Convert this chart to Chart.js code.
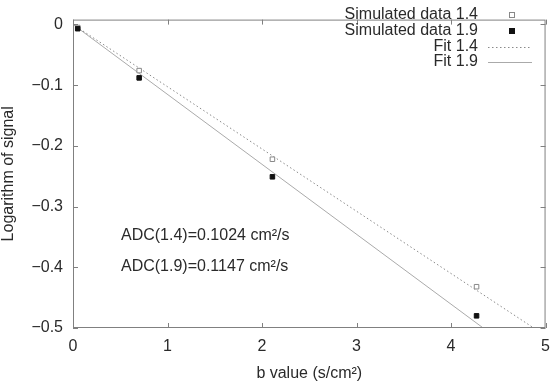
<!DOCTYPE html>
<html>
<head>
<meta charset="utf-8">
<script src="https://cdn.jsdelivr.net/npm/chart.js@4"></script>
<style>
  body { margin: 0; background: #fff; }
  canvas { display: block; }
</style>
</head>
<body>
<canvas id="adcChart" width="559" height="381"></canvas>
<script>
// values
const bValues14 = [0.05, 0.70, 2.11, 4.27];
const signal14 = [-0.005, -0.076, -0.222, -0.432];
const bValues19 = [0.05, 0.70, 2.11, 4.27];
const signal19 = [-0.007, -0.088, -0.251, -0.480];
const fitB = [0, 5];
const fit14 = [0, -0.5128];
const fit19 = [0, -0.576];
const xTicks = [0, 1, 2, 3, 4, 5];
const yTicks = [0, -0.1, -0.2, -0.3, -0.4, -0.5];
const seriesLabels = ['Simulated data 1.4', 'Simulated data 1.9', 'Fit 1.4', 'Fit 1.9'];
const adcNotes = ['ADC(1.4)=0.1024 cm²/s', 'ADC(1.9)=0.1147 cm²/s'];

const FONT = '"Liberation Sans", Arial, Helvetica, sans-serif';
const TEXT = '#2a2a2a';
const FRAME = '#808080';

function toPoints(xs, ys) {
    return xs.map((x, i) => ({ x: x, y: ys[i] }));
}

function fmtTick(v) {
    return v < 0 ? '\u2212' + Math.abs(v) : String(v);
}

// frame, inward ticks, legend and the ADC notes
const overlay = {
    id: 'overlay',
    afterDraw(chart) {
        const ctx = chart.ctx;
        const a = chart.chartArea;
        const xs = chart.scales.x;
        const ys = chart.scales.y;
        ctx.save();
        ctx.strokeStyle = FRAME;
        ctx.lineWidth = 1;
        ctx.setLineDash([]);
        ctx.strokeRect(a.left + 0.5, a.top + 0.5, a.right - a.left - 1, a.bottom - a.top - 1);

        const tl = 5;
        ctx.beginPath();
        xTicks.forEach(v => {
            const px = Math.round(xs.getPixelForValue(v)) + 0.5;
            ctx.moveTo(px, a.bottom); ctx.lineTo(px, a.bottom - tl);
            ctx.moveTo(px, a.top); ctx.lineTo(px, a.top + tl);
        });
        yTicks.forEach(v => {
            const py = Math.round(ys.getPixelForValue(v)) + 0.5;
            ctx.moveTo(a.left, py); ctx.lineTo(a.left + tl, py);
            ctx.moveTo(a.right, py); ctx.lineTo(a.right - tl, py);
        });
        ctx.stroke();

        // legend
        ctx.font = '16px ' + FONT;
        ctx.textAlign = 'right';
        ctx.textBaseline = 'middle';
        const rowY = [15, 31, 46.5, 62];
        seriesLabels.forEach((label, i) => {
            const y = rowY[i];
            ctx.fillStyle = TEXT;
            ctx.fillText(label, 478, y);
            const ds = chart.data.datasets[i];
            if (i < 2) {
                ctx.fillStyle = ds.pointBackgroundColor;
                ctx.strokeStyle = ds.pointBorderColor;
                ctx.lineWidth = 1;
                ctx.fillRect(509.5, y - 2.5, 5, 5);
                ctx.strokeRect(509.5, y - 2.5, 5, 5);
            } else {
                ctx.strokeStyle = ds.borderColor;
                ctx.lineWidth = ds.borderWidth;
                ctx.setLineDash(ds.borderDash || []);
                ctx.beginPath();
                ctx.moveTo(488, Math.round(y) + 0.5);
                ctx.lineTo(532, Math.round(y) + 0.5);
                ctx.stroke();
                ctx.setLineDash([]);
            }
        });

        // ADC notes
        ctx.fillStyle = TEXT;
        ctx.textAlign = 'left';
        ctx.fillText(adcNotes[0], 121, 236);
        ctx.fillText(adcNotes[1], 121, 267);
        ctx.restore();
    }
};

new Chart(document.getElementById('adcChart'), {
    type: 'scatter',
    data: {
        datasets: [
            {
                label: seriesLabels[0],
                data: toPoints(bValues14, signal14),
                showLine: false,
                pointStyle: 'rect',
                pointRadius: 3.2,
                pointBackgroundColor: '#fff',
                pointBorderColor: '#888',
                pointBorderWidth: 1,
                order: 1
            },
            {
                label: seriesLabels[1],
                data: toPoints(bValues19, signal19),
                showLine: false,
                pointStyle: 'rect',
                pointRadius: 3.2,
                pointBackgroundColor: '#111',
                pointBorderColor: '#111',
                pointBorderWidth: 1,
                order: 0
            },
            {
                label: seriesLabels[2],
                data: toPoints(fitB, fit14),
                showLine: true,
                pointRadius: 0,
                borderColor: '#8a8a8a',
                borderWidth: 1,
                borderDash: [1.5, 2.5],
                order: 2
            },
            {
                label: seriesLabels[3],
                data: toPoints(fitB, fit19),
                showLine: true,
                pointRadius: 0,
                borderColor: '#aaa',
                borderWidth: 1,
                order: 3
            }
        ]
    },
    options: {
        responsive: false,
        animation: false,
        layout: { padding: { top: 1, right: 8, left: 0, bottom: 0 } },
        plugins: {
            legend: { display: false },
            tooltip: { enabled: false }
        },
        scales: {
            x: {
                type: 'linear',
                min: 0,
                max: 5,
                afterBuildTicks: s => { s.ticks = xTicks.map(v => ({ value: v })); },
                afterFit: s => { s.height = 53; },
                grid: { display: false, drawTicks: false },
                border: { display: false },
                ticks: { padding: 9, color: TEXT, font: { family: FONT, size: 16 }, maxRotation: 0, callback: fmtTick },
                title: { display: true, text: 'b value (s/cm²)', color: TEXT, font: { family: FONT, size: 16 }, padding: { top: 0, bottom: -2 } }
            },
            y: {
                type: 'linear',
                min: -0.5,
                max: 0.008,
                afterBuildTicks: s => { s.ticks = yTicks.map(v => ({ value: v })); },
                afterFit: s => { s.width = 73; },
                grid: { display: false, drawTicks: false },
                border: { display: false },
                ticks: { padding: 10, color: TEXT, font: { family: FONT, size: 16 }, callback: fmtTick },
                title: { display: true, text: 'Logarithm of signal', color: TEXT, font: { family: FONT, size: 16 }, padding: { top: -1.5, bottom: 0 } }
            }
        }
    },
    plugins: [overlay]
});
</script>
</body>
</html>
